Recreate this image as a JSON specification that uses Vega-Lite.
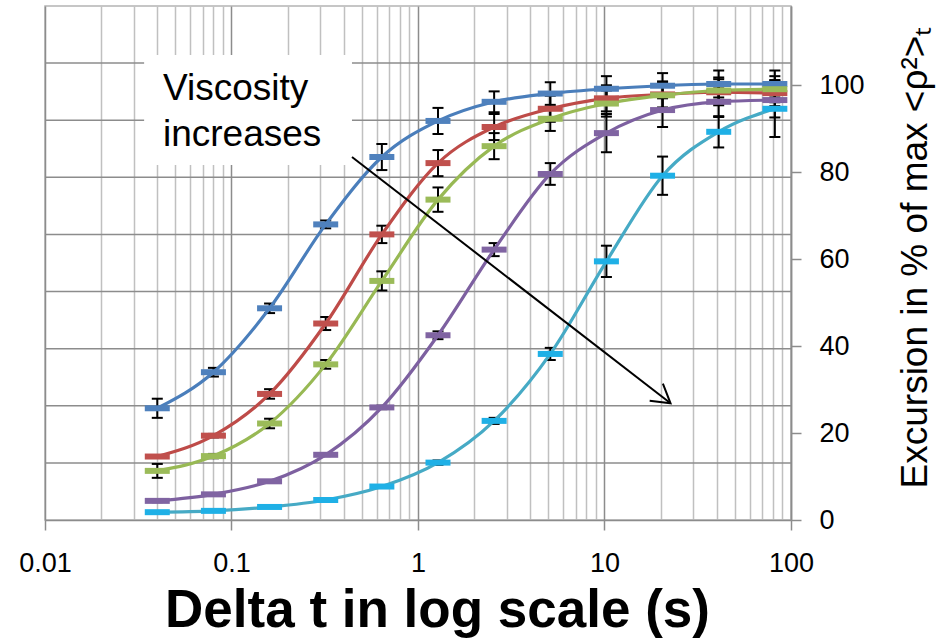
{
  "$schema": "https://vega.github.io/schema/vega-lite/v6.json",
  "width": 746,
  "height": 514,
  "autosize": {"type": "none"},
  "padding": {"left": 45, "top": 6, "right": 152, "bottom": 119},
  "background": "white",
  "config": {
    "view": {"stroke": "#b4b4b4", "strokeWidth": 1.5},
    "axis": {"labelFont": "Liberation Sans", "titleFont": "Liberation Sans", "labelColor": "black", "titleColor": "black"}
  },
  "datasets": {
    "pts": [
      {"s": "A", "t": 0.04, "v": 25.7, "lo": 23.5, "hi": 27.9},
      {"s": "A", "t": 0.08, "v": 34.0, "lo": 33.0, "hi": 35.0},
      {"s": "A", "t": 0.16, "v": 48.7, "lo": 47.6, "hi": 49.8},
      {"s": "A", "t": 0.32, "v": 68.0, "lo": 67.1, "hi": 68.9},
      {"s": "A", "t": 0.64, "v": 83.5, "lo": 80.5, "hi": 86.5},
      {"s": "A", "t": 1.28, "v": 91.8, "lo": 88.8, "hi": 94.8},
      {"s": "A", "t": 2.56, "v": 96.2, "lo": 93.8, "hi": 98.6},
      {"s": "A", "t": 5.12, "v": 98.1, "lo": 95.5, "hi": 100.7},
      {"s": "A", "t": 10.24, "v": 99.2, "lo": 96.3, "hi": 102.1},
      {"s": "A", "t": 20.48, "v": 99.9, "lo": 97.0, "hi": 102.8},
      {"s": "A", "t": 40.96, "v": 100.3, "lo": 97.2, "hi": 103.4},
      {"s": "A", "t": 81.92, "v": 100.3, "lo": 97.2, "hi": 103.4},
      {"s": "B", "t": 0.04, "v": 14.6, "lo": 14.3, "hi": 14.9},
      {"s": "B", "t": 0.08, "v": 19.4, "lo": 19.0, "hi": 19.8},
      {"s": "B", "t": 0.16, "v": 29.0, "lo": 27.9, "hi": 30.1},
      {"s": "B", "t": 0.32, "v": 45.2, "lo": 43.7, "hi": 46.7},
      {"s": "B", "t": 0.64, "v": 65.7, "lo": 63.7, "hi": 67.7},
      {"s": "B", "t": 1.28, "v": 82.1, "lo": 79.1, "hi": 85.1},
      {"s": "B", "t": 2.56, "v": 90.4, "lo": 87.4, "hi": 93.4},
      {"s": "B", "t": 5.12, "v": 94.6, "lo": 91.6, "hi": 97.6},
      {"s": "B", "t": 10.24, "v": 97.0, "lo": 94.0, "hi": 100.0},
      {"s": "B", "t": 20.48, "v": 97.9, "lo": 94.9, "hi": 100.9},
      {"s": "B", "t": 40.96, "v": 98.4, "lo": 95.4, "hi": 101.4},
      {"s": "B", "t": 81.92, "v": 98.2, "lo": 95.2, "hi": 101.2},
      {"s": "C", "t": 0.04, "v": 11.3, "lo": 9.7, "hi": 12.9},
      {"s": "C", "t": 0.08, "v": 14.7, "lo": 14.2, "hi": 15.2},
      {"s": "C", "t": 0.16, "v": 22.2, "lo": 21.1, "hi": 23.3},
      {"s": "C", "t": 0.32, "v": 35.8, "lo": 34.8, "hi": 36.8},
      {"s": "C", "t": 0.64, "v": 55.0, "lo": 52.8, "hi": 57.2},
      {"s": "C", "t": 1.28, "v": 73.7, "lo": 70.9, "hi": 76.5},
      {"s": "C", "t": 2.56, "v": 86.0, "lo": 83.0, "hi": 89.0},
      {"s": "C", "t": 5.12, "v": 92.3, "lo": 89.5, "hi": 95.1},
      {"s": "C", "t": 10.24, "v": 95.8, "lo": 92.8, "hi": 98.8},
      {"s": "C", "t": 20.48, "v": 97.7, "lo": 94.7, "hi": 100.7},
      {"s": "C", "t": 40.96, "v": 98.8, "lo": 95.8, "hi": 101.8},
      {"s": "C", "t": 81.92, "v": 99.1, "lo": 96.1, "hi": 102.1},
      {"s": "D", "t": 0.04, "v": 4.4, "lo": 4.1, "hi": 4.7},
      {"s": "D", "t": 0.08, "v": 5.9, "lo": 5.6, "hi": 6.2},
      {"s": "D", "t": 0.16, "v": 8.9, "lo": 8.6, "hi": 9.2},
      {"s": "D", "t": 0.32, "v": 15.0, "lo": 14.7, "hi": 15.3},
      {"s": "D", "t": 0.64, "v": 25.9, "lo": 25.5, "hi": 26.3},
      {"s": "D", "t": 1.28, "v": 42.5, "lo": 41.6, "hi": 43.4},
      {"s": "D", "t": 2.56, "v": 62.2, "lo": 60.7, "hi": 63.7},
      {"s": "D", "t": 5.12, "v": 79.6, "lo": 77.1, "hi": 82.1},
      {"s": "D", "t": 10.24, "v": 89.0, "lo": 84.6, "hi": 93.4},
      {"s": "D", "t": 20.48, "v": 94.3, "lo": 90.4, "hi": 98.2},
      {"s": "D", "t": 40.96, "v": 96.2, "lo": 92.7, "hi": 99.7},
      {"s": "D", "t": 81.92, "v": 96.6, "lo": 92.6, "hi": 100.6},
      {"s": "E", "t": 0.04, "v": 1.8, "lo": 1.6, "hi": 2.0},
      {"s": "E", "t": 0.08, "v": 2.1, "lo": 1.9, "hi": 2.3},
      {"s": "E", "t": 0.16, "v": 3.0, "lo": 2.8, "hi": 3.2},
      {"s": "E", "t": 0.32, "v": 4.6, "lo": 4.4, "hi": 4.8},
      {"s": "E", "t": 0.64, "v": 7.7, "lo": 7.4, "hi": 8.0},
      {"s": "E", "t": 1.28, "v": 13.2, "lo": 12.7, "hi": 13.7},
      {"s": "E", "t": 2.56, "v": 22.8, "lo": 22.1, "hi": 23.5},
      {"s": "E", "t": 5.12, "v": 38.2, "lo": 36.8, "hi": 39.6},
      {"s": "E", "t": 10.24, "v": 59.5, "lo": 55.9, "hi": 63.1},
      {"s": "E", "t": 20.48, "v": 79.2, "lo": 74.8, "hi": 83.6},
      {"s": "E", "t": 40.96, "v": 89.3, "lo": 85.7, "hi": 92.9},
      {"s": "E", "t": 81.92, "v": 94.6, "lo": 88.1, "hi": 101.1}
    ],
    "hgrid": [{"y": 13.14}, {"y": 26.28}, {"y": 39.42}, {"y": 52.56}, {"y": 65.7}, {"y": 78.84}, {"y": 91.98}, {"y": 105.12}],
    "box": [{"x": 0.034, "x2": 0.4426, "y": 106.97, "y2": 81.67}],
    "ann": [{"x": 0.0429, "y": 96.6, "label": "Viscosity"}, {"x": 0.0429, "y": 86.0, "label": "increases"}],
    "arrow": [{"x": 0.4426, "y": 83.5, "x2": 22.6, "y2": 26.85}]
  },
  "resolve": {"scale": {"color": "independent"}},
  "layer": [
    {
      "data": {"name": "hgrid"},
      "mark": {"type": "rule", "color": "#8c8c8c", "strokeWidth": 1.5},
      "encoding": {
        "y": {
          "field": "y", "type": "quantitative",
          "scale": {"domain": [0, 118.24], "nice": false, "zero": true},
          "axis": {
            "orient": "right",
            "values": [0, 20, 40, 60, 80, 100],
            "grid": false,
            "tickSize": 10,
            "tickWidth": 1.5,
            "tickColor": "#8c8c8c",
            "domainColor": "#8c8c8c",
            "domainWidth": 1.5,
            "labelFontSize": 27,
            "labelPadding": 18,
            "labelFlush": false,
            "labelOverlap": false,
            "title": "Excursion in % of max <ρ²>ₜ",
            "titleFontSize": 37,
            "titleFontWeight": "normal",
            "titleAngle": 270,
            "titleAlign": "center",
            "titleBaseline": "alphabetic",
            "titleX": 135,
            "titleY": 251
          }
        }
      }
    },
    {
      "data": {"name": "box"},
      "mark": {"type": "rect", "color": "white", "opacity": 1},
      "encoding": {
        "x": {
          "field": "x", "type": "quantitative",
          "scale": {"type": "log", "domain": [0.01, 100], "nice": false},
          "axis": {
            "values": [0.01, 0.02, 0.03, 0.04, 0.05, 0.06, 0.07, 0.08, 0.09, 0.1, 0.2, 0.3, 0.4, 0.5, 0.6, 0.7, 0.8, 0.9, 1, 2, 3, 4, 5, 6, 7, 8, 9, 10, 20, 30, 40, 50, 60, 70, 80, 90, 100],
            "grid": true,
            "gridColor": {"condition": {"test": "abs(log(datum.value)/LN10 - round(log(datum.value)/LN10)) < 0.001", "value": "#8c8c8c"}, "value": "#c0c0c0"},
            "gridWidth": 1.5,
            "tickSize": 10,
            "tickWidth": 1.5,
            "tickColor": "#8c8c8c",
            "tickOpacity": {"condition": {"test": "abs(log(datum.value)/LN10 - round(log(datum.value)/LN10)) < 0.001", "value": 1}, "value": 0},
            "domainColor": "#8c8c8c",
            "domainWidth": 1.5,
            "labelExpr": "abs(log(datum.value)/LN10 - round(log(datum.value)/LN10)) < 0.001 ? format(datum.value, '~g') : ''",
            "labelFontSize": 27,
            "labelPadding": 20,
            "labelFlush": false,
            "labelOverlap": false,
            "labelBound": false,
            "title": "Delta t in log scale (s)",
            "titleFontSize": 53,
            "titleFontWeight": "bold",
            "titleAlign": "center",
            "titleBaseline": "alphabetic",
            "titleX": 392,
            "titleY": 106
          }
        },
        "x2": {"field": "x2"},
        "y": {"field": "y", "type": "quantitative", "scale": {"domain": [0, 118.24], "nice": false}},
        "y2": {"field": "y2"}
      }
    },
    {
      "data": {"name": "ann"},
      "mark": {"type": "text", "font": "Liberation Sans", "fontSize": 37, "align": "left", "baseline": "alphabetic", "color": "black"},
      "encoding": {
        "x": {"field": "x", "type": "quantitative", "scale": {"type": "log", "domain": [0.01, 100], "nice": false}},
        "y": {"field": "y", "type": "quantitative", "scale": {"domain": [0, 118.24], "nice": false}},
        "text": {"field": "label"}
      }
    },
    {
      "data": {"name": "pts"},
      "mark": {"type": "rule", "color": "black", "strokeWidth": 2},
      "encoding": {
        "x": {"field": "t", "type": "quantitative", "scale": {"type": "log", "domain": [0.01, 100], "nice": false}},
        "y": {"field": "lo", "type": "quantitative", "scale": {"domain": [0, 118.24], "nice": false}},
        "y2": {"field": "hi"}
      }
    },
    {
      "data": {"name": "pts"},
      "mark": {"type": "tick", "orient": "horizontal", "size": 11, "thickness": 2, "color": "black", "opacity": 1},
      "encoding": {
        "x": {"field": "t", "type": "quantitative", "scale": {"type": "log", "domain": [0.01, 100], "nice": false}},
        "y": {"field": "hi", "type": "quantitative", "scale": {"domain": [0, 118.24], "nice": false}}
      }
    },
    {
      "data": {"name": "pts"},
      "mark": {"type": "tick", "orient": "horizontal", "size": 11, "thickness": 2, "color": "black", "opacity": 1},
      "encoding": {
        "x": {"field": "t", "type": "quantitative", "scale": {"type": "log", "domain": [0.01, 100], "nice": false}},
        "y": {"field": "lo", "type": "quantitative", "scale": {"domain": [0, 118.24], "nice": false}}
      }
    },
    {
      "data": {"name": "pts"},
      "mark": {"type": "line", "interpolate": "monotone", "strokeWidth": 3.2},
      "encoding": {
        "x": {"field": "t", "type": "quantitative", "scale": {"type": "log", "domain": [0.01, 100], "nice": false}},
        "y": {"field": "v", "type": "quantitative", "scale": {"domain": [0, 118.24], "nice": false}},
        "color": {"field": "s", "type": "nominal", "scale": {"domain": ["A", "B", "C", "D", "E"], "range": ["#4A7EBB", "#BE4B48", "#98B954", "#7D60A0", "#46AAC5"]}, "legend": null}
      }
    },
    {
      "data": {"name": "pts"},
      "mark": {"type": "point", "shape": "M-1,-0.24H1V0.24H-1Z", "size": 625, "filled": true, "opacity": 1},
      "encoding": {
        "x": {"field": "t", "type": "quantitative", "scale": {"type": "log", "domain": [0.01, 100], "nice": false}},
        "y": {"field": "v", "type": "quantitative", "scale": {"domain": [0, 118.24], "nice": false}},
        "color": {"field": "s", "type": "nominal", "scale": {"domain": ["A", "B", "C", "D", "E"], "range": ["#4F81BD", "#C0504D", "#9BBB59", "#8064A2", "#1FB0E6"]}, "legend": null}
      }
    },
    {
      "data": {"name": "arrow"},
      "mark": {"type": "rule", "color": "black", "strokeWidth": 2},
      "encoding": {
        "x": {"field": "x", "type": "quantitative", "scale": {"type": "log", "domain": [0.01, 100], "nice": false}},
        "y": {"field": "y", "type": "quantitative", "scale": {"domain": [0, 118.24], "nice": false}},
        "x2": {"field": "x2"},
        "y2": {"field": "y2"}
      }
    },
    {
      "data": {"name": "arrow"},
      "mark": {"type": "point", "shape": "M-1,-0.6L0,0L-1,0.6", "size": 1300, "filled": false, "color": "black", "strokeWidth": 2, "angle": 37.7, "opacity": 1},
      "encoding": {
        "x": {"field": "x2", "type": "quantitative", "scale": {"type": "log", "domain": [0.01, 100], "nice": false}},
        "y": {"field": "y2", "type": "quantitative", "scale": {"domain": [0, 118.24], "nice": false}}
      }
    }
  ]
}
